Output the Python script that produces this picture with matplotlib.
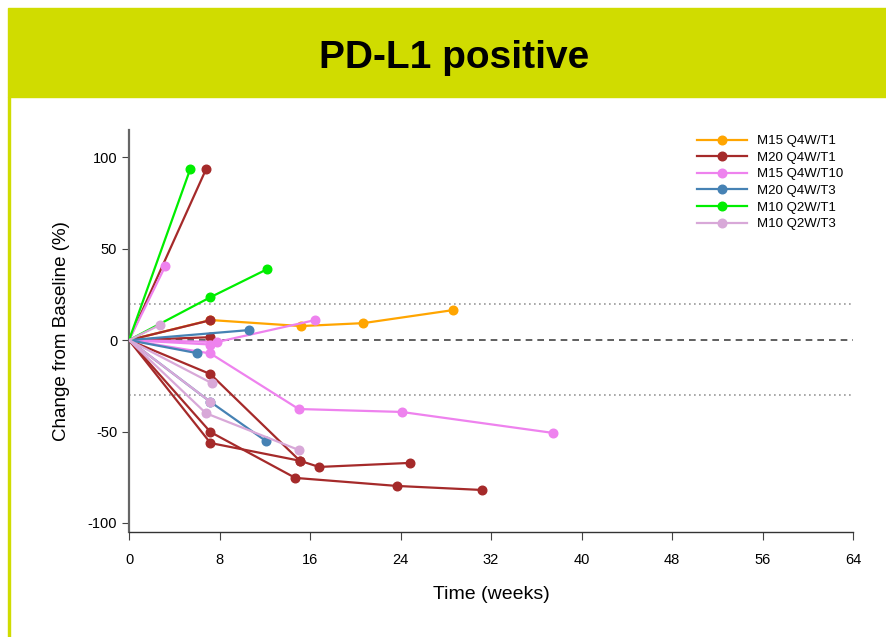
import matplotlib.pyplot as plt
from matplotlib.lines import Line2D
from matplotlib.patches import Rectangle

plt.rcParams['font.family'] = ['Liberation Sans', 'DejaVu Sans']
plt.rcParams['axes.unicode_minus'] = False

# weeks / % change from baseline per patient, by cohort
m15_q4w_t1_weeks = [[0, 7.2, 15.2, 20.7, 28.6]]
m15_q4w_t1_chg = [[0, 11, 7.7, 9.3, 16.4]]

m20_q4w_t1_weeks = [[0, 6.8], [0, 7.2], [0, 7.2], [0, 7.2, 15.1],
                    [0, 7.2, 15.1, 16.8, 24.8], [0, 7.2, 14.7, 23.7, 31.2]]
m20_q4w_t1_chg = [[0, 93.4], [0, 10.9], [0, 1.6], [0, -18.6, -66],
                  [0, -56.3, -66, -69.4, -67.2], [0, -50.3, -75.4, -79.8, -82]]

m15_q4w_t10_weeks = [[0, 3.2], [0, 7.8, 16.4], [0, 7.2], [0, 7.2, 15.0, 24.1, 37.5]]
m15_q4w_t10_chg = [[0, 40.4], [0, -1, 10.9], [0, -2.4], [0, -7.3, -37.7, -39.3, -50.8]]

m20_q4w_t3_weeks = [[0, 10.6], [0, 6.0], [0, 7.2, 12.1]]
m20_q4w_t3_chg = [[0, 5.5], [0, -7.1], [0, -33.8, -55.2]]

m10_q2w_t1_weeks = [[0, 5.4], [0, 7.2, 12.2]]
m10_q2w_t1_chg = [[0, 93.4], [0, 23.5, 38.8]]

m10_q2w_t3_weeks = [[0, 2.7], [0, 7.3], [0, 7.2], [0, 6.8, 15.0]]
m10_q2w_t3_chg = [[0, 8.2], [0, -23.5], [0, -33.8], [0, -40, -60.1]]

cohorts = [
    ('M15 Q4W/T1', '#FFA500', m15_q4w_t1_weeks, m15_q4w_t1_chg),
    ('M20 Q4W/T1', '#A52A2A', m20_q4w_t1_weeks, m20_q4w_t1_chg),
    ('M15 Q4W/T10', '#EE82EE', m15_q4w_t10_weeks, m15_q4w_t10_chg),
    ('M20 Q4W/T3', '#4682B4', m20_q4w_t3_weeks, m20_q4w_t3_chg),
    ('M10 Q2W/T1', '#00EE00', m10_q2w_t1_weeks, m10_q2w_t1_chg),
    ('M10 Q2W/T3', '#D8A8D8', m10_q2w_t3_weeks, m10_q2w_t3_chg),
]

fig = plt.figure(figsize=(8.86, 6.37), dpi=100)

# title banner
fig.patches.append(Rectangle((8 / 886, 1 - 97 / 637), 1, 89 / 637,
                             transform=fig.transFigure, color='#D0DC00', zorder=0))
fig.patches.append(Rectangle((8 / 886, 0), 2.5 / 886, 1 - 97 / 637,
                             transform=fig.transFigure, color='#D0DC00', zorder=0))
fig.text(0.512, 1 - 58 / 637, 'PD-L1 positive', ha='center', va='center',
         fontsize=28, fontweight='bold', color='black')

ax = fig.add_axes([129 / 886, 1 - 532 / 637, 724 / 886, 402 / 637])

for name, color, weeks, chg in cohorts:
    for w, c in zip(weeks, chg):
        ax.plot(w, c, color=color, lw=1.6, marker='o', markersize=6.2,
                markevery=list(range(1, len(w))), zorder=3)

ax.axhline(0, color='#444444', lw=1.2, ls=(0, (4, 3)), zorder=1)
ax.axhline(20, color='#999999', lw=1.2, ls=(0, (1, 2)), zorder=1)
ax.axhline(-30, color='#999999', lw=1.2, ls=(0, (1, 2)), zorder=1)

ax.set_xlim(0, 64)
ax.set_ylim(-105, 115)
ax.set_xticks(range(0, 65, 8))
ax.set_yticks([-100, -50, 0, 50, 100])
ax.tick_params(labelsize=10.5, length=5, direction='out', color='#444444')
ax.tick_params(axis='x', length=6, pad=9)
for s in ['top', 'right']:
    ax.spines[s].set_visible(False)
ax.spines['left'].set_color('#666666')
ax.spines['left'].set_linewidth(1.6)
ax.spines['bottom'].set_color('#333333')
ax.spines['bottom'].set_linewidth(1.0)
ax.set_xlabel('Time (weeks)', fontsize=14, labelpad=14)
ax.set_ylabel('Change from Baseline (%)', fontsize=13.5, labelpad=13)

handles = [Line2D([], [], color=c, lw=1.6, marker='o', markersize=6.2)
           for _, c, _, _ in cohorts]
ax.legend(handles, [n for n, _, _, _ in cohorts], loc='upper right',
          bbox_to_anchor=(1.003, 1.017), frameon=False, fontsize=9.5,
          handlelength=3.8, handletextpad=0.75, labelspacing=0.33)

fig.savefig('out.png', dpi=100)
